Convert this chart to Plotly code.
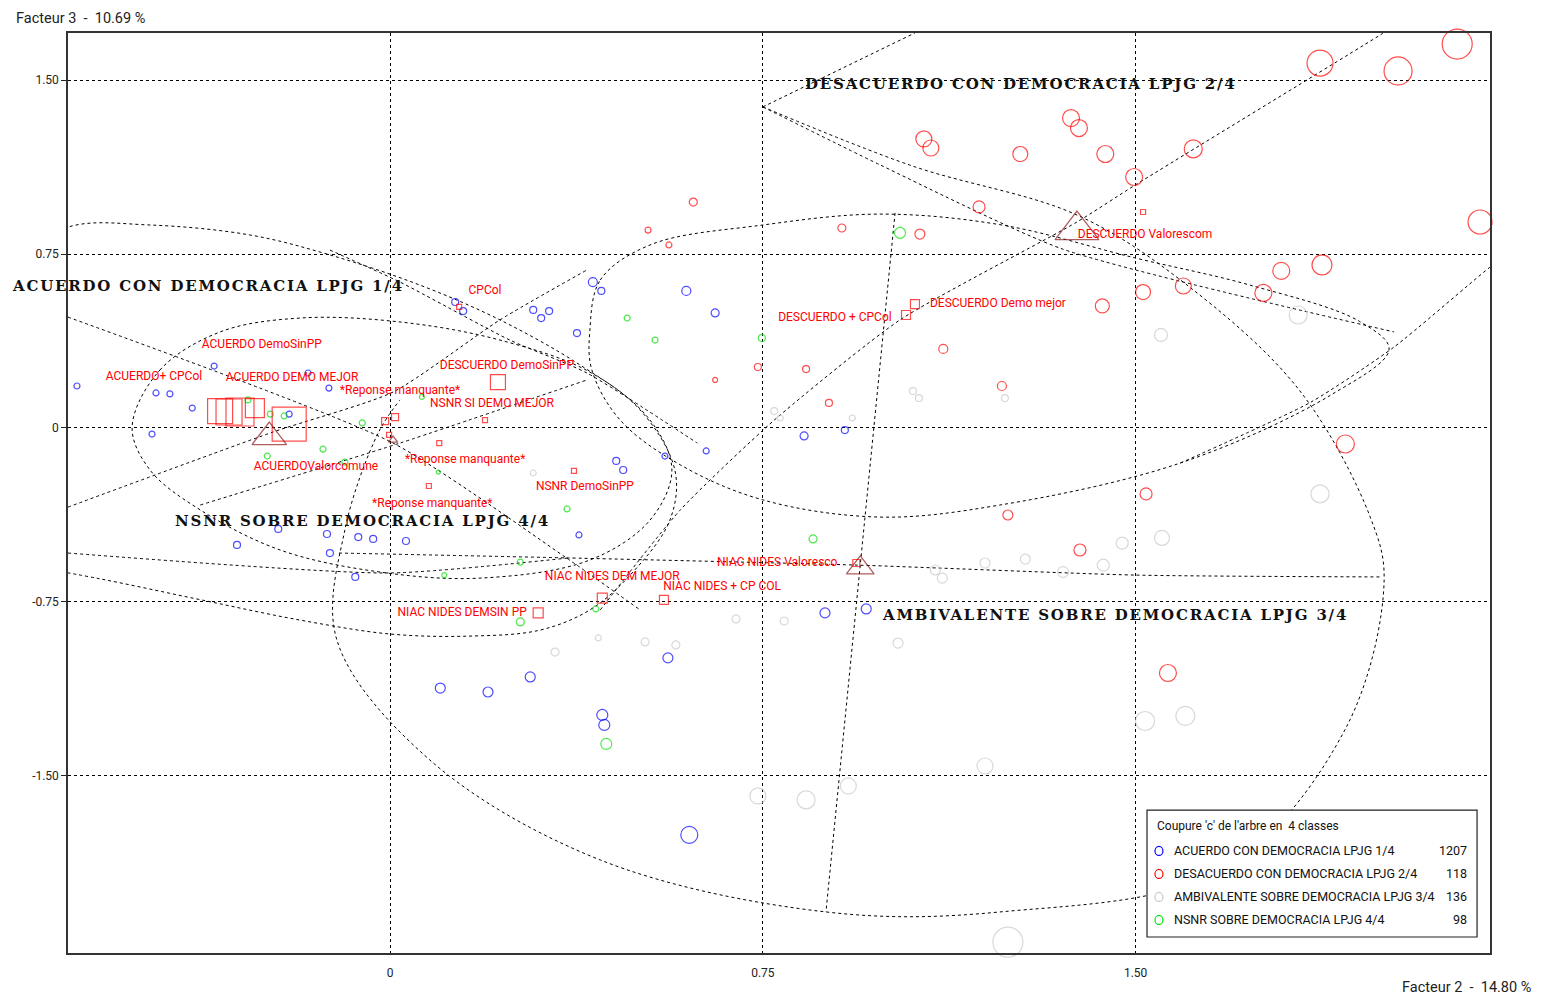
import plotly.graph_objects as go

# ---------------- data (factor coordinates) ----------------
x_ticks = [0, 0.75, 1.5]
x_tick_text = ["0", "0.75", "1.50"]
y_ticks = [1.5, 0.75, 0, -0.75, -1.5]
y_tick_text = ["1.50", "0.75", "0", "-0.75", "-1.50"]

class_names = ["ACUERDO CON DEMOCRACIA LPJG 1/4", "DESACUERDO CON DEMOCRACIA LPJG 2/4",
               "AMBIVALENTE SOBRE DEMOCRACIA LPJG 3/4", "NSNR SOBRE DEMOCRACIA LPJG 4/4"]
class_counts = [1207, 118, 136, 98]
class_colors = ["#0000FF", "#FF0000", "#C8C8C8", "#00E000"]

blue_x = [-0.630, -0.471, -0.443, -0.398, -0.479, -0.354, -0.165, -0.123, -0.203, 0.131, 0.147, 0.288, 0.304,
          0.320, 0.376, 0.408, 0.425, 0.596, 0.654, 0.553, 0.455, 0.469, 0.636, 0.833, 0.915, -0.225, -0.308,
          -0.127, -0.064, -0.034, 0.032, -0.121, -0.070, 0.380, 0.875, 0.958, 0.101, 0.197, 0.282, 0.427, 0.431,
          0.559, 0.602]
blue_y = [0.181, 0.151, 0.147, 0.086, -0.026, 0.267, 0.237, 0.172, 0.060, 0.543, 0.504, 0.509, 0.474,
          0.504, 0.409, 0.629, 0.591, 0.591, 0.496, -0.121, -0.142, -0.181, -0.099, -0.034, -0.009, -0.435, -0.504,
          -0.457, -0.470, -0.478, -0.487, -0.539, -0.642, -0.461, -0.797, -0.780, -1.121, -1.138, -1.073, -1.237,
          -1.280, -0.991, -1.754]
blue_w = [6, 6, 6, 6, 6, 6, 6, 6, 6, 7, 7, 7, 7, 7, 7, 9, 7, 9, 8, 6, 7, 7, 6, 8, 7, 7, 7, 7, 7, 7, 7, 7, 7,
          6, 10, 10, 10, 10, 10, 11, 11, 10, 17]

red_x = [0.610, 0.519, 0.561, 0.909, 1.066, 1.185, 1.074, 1.088, 1.268, 1.370, 1.386, 1.439, 1.497, 1.616,
         1.871, 2.028, 2.147, 2.193, 1.875, 1.793, 1.757, 1.596, 1.515, 1.433, 1.113, 1.231, 0.740, 0.837, 0.883,
         0.654, 1.922, 1.521, 1.243, 1.388, 1.565]
red_y = [0.974, 0.853, 0.789, 0.862, 0.836, 0.953, 1.246, 1.207, 1.181, 1.336, 1.293, 1.181, 1.082, 1.203,
         1.573, 1.539, 1.655, 0.888, 0.703, 0.677, 0.582, 0.612, 0.586, 0.526, 0.341, 0.181, 0.263, 0.254, 0.108,
         0.207, -0.069, -0.284, -0.375, -0.526, -1.056]
red_w = [8, 6, 6, 8, 10, 12, 16, 16, 15, 17, 17, 17, 17, 18, 26, 28, 30, 24, 20, 17, 17, 16, 15, 14, 9, 9,
         7, 7, 7, 5, 18, 12, 10, 12, 17]

gray_x = [1.827, 1.551, 1.052, 1.064, 1.237, 0.773, 0.785, 0.930, 1.871, 1.553, 1.473, 1.435, 1.354, 1.278,
          1.197, 1.097, 1.111, 1.022, 1.519, 1.600, 1.197, 1.243, 0.922, 0.837, 0.740, 0.696, 0.793, 0.575,
          0.513, 0.419, 0.332, 0.288]
gray_y = [0.487, 0.401, 0.159, 0.129, 0.129, 0.073, 0.043, 0.043, -0.284, -0.474, -0.496, -0.591, -0.621,
          -0.565, -0.582, -0.612, -0.647, -0.927, -1.263, -1.241, -1.457, -2.216, -1.543, -1.603, -1.586, -0.823,
          -0.832, -0.935, -0.922, -0.905, -0.966, -0.194]
gray_w = [18, 13, 7, 7, 7, 7, 6, 6, 18, 15, 12, 12, 11, 10, 10, 10, 10, 10, 19, 19, 16, 30, 16, 18, 16, 8, 8,
          8, 8, 6, 8, 6]

green_x = [1.026, 0.477, 0.533, 0.748, 0.851, 0.262, 0.414, 0.435, 0.262, 0.109, 0.356, 0.097, -0.247,
           -0.135, -0.091, -0.286, -0.241, -0.213, -0.056, 0.064]
green_y = [0.841, 0.474, 0.379, 0.388, -0.478, -0.836, -0.780, -1.362, -0.578, -0.634, -0.349, -0.190,
           -0.121, -0.091, -0.147, 0.121, 0.060, 0.052, 0.022, 0.134]
green_w = [11, 6, 6, 7, 8, 8, 6, 11, 6, 5, 6, 4, 6, 6, 6, 6, 6, 6, 6, 5]

# modalities (squares) and class centres (triangles)
mod_x = [-0.342, -0.324, -0.302, -0.272, -0.203, 0.217, -0.010, 0.010, -0.002, 0.099, 0.078, 0.191, 0.370,
         0.298, 0.427, 0.551, 0.938, 1.038, 1.056, 1.515, 0.139]
mod_y = [0.073, 0.069, 0.069, 0.086, 0.017, 0.198, 0.030, 0.047, -0.030, -0.065, -0.250, 0.034, -0.185,
         -0.797, -0.733, -0.741, -0.582, 0.487, 0.534, 0.931, 0.522]
mod_w = [25, 26, 28, 19, 34, 15, 7, 7, 5, 5, 5, 5, 5, 10, 10, 9, 7, 9, 9, 5, 5]

centre_x = [-0.243, 1.382, 0.946, 0.006]
centre_y = [-0.039, 0.853, -0.603, -0.052]
centre_w = [30, 38, 24, 8]

mod_labels = ["CPCol", "ACUERDO DemoSinPP", "ACUERDO+ CPCol", "ACUERDO DEMO MEJOR", "*Reponse manquante*",
              "DESCUERDO DemoSinPP", "NSNR SI DEMO MEJOR", "ACUERDOValorcomune", "*Reponse manquante*",
              "NSNR DemoSinPP", "*Reponse manquante*", "NIAC NIDES DEM MEJOR", "NIAC NIDES + CP COL",
              "NIAC NIDES Valoresco", "NIAC NIDES DEMSIN PP", "DESCUERDO + CPCol", "DESCUERDO Demo mejor",
              "DESCUERDO Valorescom"]
lab_x = [0.191, -0.258, -0.475, -0.197, 0.020, 0.235, 0.205, -0.149, 0.151, 0.392, 0.085, 0.447, 0.668,
         0.779, 0.145, 0.895, 1.223, 1.519]
lab_y = [0.591, 0.358, 0.220, 0.216, 0.159, 0.267, 0.103, -0.168, -0.138, -0.254, -0.328, -0.642, -0.685,
         -0.582, -0.797, 0.474, 0.534, 0.832]

class_lab_x = [-0.366, 1.270, 1.459, -0.056]
class_lab_y = [0.612, 1.483, -0.806, -0.401]

# dashed partition curves / class ellipses
curve_a_x = [-0.519, -0.463, -0.342, -0.181, 0.020, 0.221, 0.402, 0.523, 0.567, 0.523, 0.402, 0.181, -0.020,
             -0.221, -0.382, -0.483, -0.519]
curve_a_y = [0.004, 0.250, 0.414, 0.474, 0.457, 0.379, 0.241, 0.034, -0.181, -0.397, -0.569, -0.647, -0.621,
             -0.526, -0.353, -0.181, 0.004]
curve_b_x = [-0.765, -0.648, -0.483, -0.282, -0.121, 0.060, 0.221, 0.382, 0.503, 0.573, 0.563, 0.483, 0.402,
             0.302, 0.161, 0.000, -0.181, -0.382, -0.584, -0.765]
curve_b_y = [0.700, 0.866, 0.875, 0.832, 0.746, 0.616, 0.466, 0.272, 0.078, -0.181, -0.397, -0.634, -0.784,
             -0.871, -0.897, -0.888, -0.828, -0.740, -0.650, -0.580]
curve_c_x = [0.402, 0.423, 0.523, 0.750, 0.986, 1.231, 1.499, 1.730, 1.950, 2.010, 1.891, 1.590, 1.227, 0.986,
             0.750, 0.584, 0.463, 0.406, 0.402]
curve_c_y = [0.422, 0.638, 0.789, 0.875, 0.922, 0.875, 0.733, 0.616, 0.460, 0.340, 0.140, -0.151, -0.332,
             -0.384, -0.310, -0.159, 0.034, 0.250, 0.422]
curve_d_x = [0.750, 1.050, 1.382, 1.598, 1.829, 1.972, 2.000, 1.924, 1.678, 1.227, 0.877, 0.423, 0.080, -0.107,
             -0.091, -0.024, 0.020]
curve_d_y = [1.384, 1.130, 0.918, 0.625, 0.164, -0.384, -0.655, -1.289, -1.901, -2.086, -2.086, -1.862, -1.431,
             -0.914, -0.440, -0.022, 0.121]
lines_x = [[-0.648, 0.006, 0.352, 0.503],
           [-0.648, -0.235, 0.006, 0.221, 0.396],
           [0.423, 0.584, 0.773, 1.026, 1.382, 1.499, 1.992, 2.032],
           [0.750, 0.986, 1.352, 2.020],
           [0.750, 1.056],
           [-0.103, 0.356, 0.940, 1.499, 1.996],
           [-0.648, -0.002, 0.360],
           [1.016, 0.877],
           [-0.121, 0.020, 0.241, 0.396, 0.618],
           [-0.382, 0.020, 0.396],
           [1.590, 1.853, 2.020, 2.211, 2.274]]
lines_y = [[0.478, -0.065, -0.556, -0.784],
           [-0.341, -0.017, 0.155, 0.466, 0.681],
           [-0.784, -0.353, 0.034, 0.466, 0.888, 1.047, 1.694, 1.750],
           [1.384, 1.134, 0.772, 0.414],
           [1.384, 1.703],
           [-0.539, -0.560, -0.591, -0.634, -0.642],
           [-0.539, -0.625, -0.560],
           [0.927, -2.086],
           [0.767, 0.629, 0.379, 0.237, -0.065],
           [-0.332, -0.065, 0.207],
           [-0.151, 0.112, 0.349, 0.690, 0.789]]

# ---------------- figure ----------------
SANS = "Roboto, Liberation Sans, Arial, sans-serif"
SERIF = "DejaVu Serif, Liberation Serif, serif"
DASH = "3px,3px"

fig = go.Figure()

for cx, cy in [(curve_a_x, curve_a_y), (curve_b_x, curve_b_y), (curve_c_x, curve_c_y), (curve_d_x, curve_d_y)]:
    fig.add_trace(go.Scatter(x=cx, y=cy, mode="lines",
                             line=dict(color="black", width=1, dash=DASH, shape="spline", smoothing=1.0),
                             hoverinfo="skip", showlegend=False))
for lx, ly in zip(lines_x, lines_y):
    fig.add_trace(go.Scatter(x=lx, y=ly, mode="lines",
                             line=dict(color="black", width=1, dash=DASH, shape="spline", smoothing=0.6),
                             hoverinfo="skip", showlegend=False))

for px_, py_, pw, col in [(gray_x, gray_y, gray_w, class_colors[2]), (blue_x, blue_y, blue_w, class_colors[0]),
                          (red_x, red_y, red_w, class_colors[1]), (green_x, green_y, green_w, class_colors[3])]:
    fig.add_trace(go.Scatter(x=px_, y=py_, mode="markers", cliponaxis=False,
                             marker=dict(symbol="circle-open", size=pw, color=col, line=dict(width=1.2, color=col)),
                             showlegend=False))

fig.add_trace(go.Scatter(x=mod_x, y=mod_y, mode="markers", cliponaxis=False,
                         marker=dict(symbol="square-open", size=mod_w, color="#FF0000",
                                     line=dict(width=1.2, color="#FF0000")), showlegend=False))
fig.add_trace(go.Scatter(x=centre_x, y=centre_y, mode="markers", cliponaxis=False,
                         marker=dict(symbol="triangle-up-open", size=centre_w, color="#8B1A1A",
                                     line=dict(width=1.3, color="#8B1A1A")), showlegend=False))
fig.add_trace(go.Scatter(x=lab_x, y=lab_y, mode="text", text=mod_labels, cliponaxis=False,
                         textfont=dict(family=SANS, size=12, color="#FF0000"), showlegend=False))

annotations = []
for name, x, y in zip(class_names, class_lab_x, class_lab_y):
    annotations.append(dict(x=x, y=y, xref="x", yref="y",
                            text='<span style="letter-spacing:1.8px">' + name + '</span>', showarrow=False,
                            font=dict(family=SERIF, size=15, color="#111111", weight="bold")))

# axis titles
annotations.append(dict(x=-0.038, y=1.0163, xref="paper", yref="paper", xanchor="left", yanchor="middle",
                        text="Facteur 3  -  10.69 %", showarrow=False, font=dict(family=SANS, size=14.5, color="#222")))
annotations.append(dict(x=1.0305, y=-0.0380, xref="paper", yref="paper", xanchor="right", yanchor="middle",
                        text="Facteur 2  -  14.80 %", showarrow=False, font=dict(family=SANS, size=14.5, color="#222")))

# legend box
shapes = [dict(type="rect", xref="paper", yref="paper", x0=0.7588, x1=0.9909, y0=0.0174, y1=0.1554,
               line=dict(color="#222", width=1.2), fillcolor="white", layer="above")]
annotations.append(dict(x=0.7644, y=0.1380, xref="paper", yref="paper", xanchor="left", yanchor="middle",
                        text="Coupure 'c' de l'arbre en  4 classes", showarrow=False,
                        font=dict(family=SANS, size=12, color="#111")))
leg_y = [0.1109, 0.0859, 0.0609, 0.0359]
for name, cnt, col, ly in zip(class_names, class_counts, class_colors, leg_y):
    shapes.append(dict(type="circle", xref="paper", yref="paper", xsizemode="pixel", ysizemode="pixel",
                       xanchor=0.7672, yanchor=ly, x0=-4, x1=4, y0=-4.5, y1=4.5,
                       line=dict(color=col, width=1.2), layer="above"))
    annotations.append(dict(x=0.7764, y=ly, xref="paper", yref="paper", xanchor="left", yanchor="middle",
                            text=name, showarrow=False, font=dict(family=SANS, size=12.5, color="#111")))
    annotations.append(dict(x=0.9852, y=ly, xref="paper", yref="paper", xanchor="right", yanchor="middle",
                            text=str(cnt), showarrow=False, font=dict(family=SANS, size=12.5, color="#111")))

# page body has an 8px margin: shrink the paper so the plot area lands where the reference has it
fig.update_layout(
    width=1530, height=992, autosize=False,
    margin=dict(l=60, r=48, t=25, b=47, pad=0),
    paper_bgcolor="white", plot_bgcolor="white",
    annotations=annotations, shapes=shapes, showlegend=False,
    xaxis=dict(range=[-0.648, 2.213], tickvals=x_ticks, ticktext=x_tick_text, showgrid=True,
               gridcolor="black", gridwidth=1, griddash=DASH, zeroline=False, showline=True, mirror=True,
               linecolor="#333", linewidth=1.5, ticks="", tickfont=dict(family=SANS, size=12, color="#222"),
               ticklabelstandoff=8),
    yaxis=dict(range=[-2.263, 1.7026], tickvals=y_ticks, ticktext=y_tick_text, showgrid=True,
               gridcolor="black", gridwidth=1, griddash=DASH, zeroline=False, showline=True, mirror=True,
               linecolor="#333", linewidth=1.5, ticks="outside", ticklen=5, tickcolor="#222",
               tickfont=dict(family=SANS, size=12, color="#222")),
)

fig.write_html("out.html")
